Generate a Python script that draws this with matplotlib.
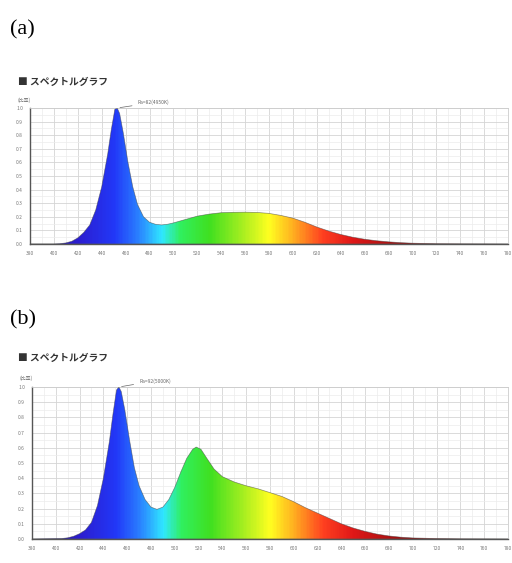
import numpy as np
import matplotlib
matplotlib.use('Agg')
import matplotlib.pyplot as plt
from matplotlib.colors import LinearSegmentedColormap

plt.rcParams['font.family'] = ['Noto Sans CJK JP', 'DejaVu Sans']

# spectrum (a)
wl_a = [380, 400, 405, 410, 415, 420, 425, 430, 435, 440, 445, 448, 451, 453, 455, 458,
        462, 466, 470, 475, 480, 485, 490, 495, 500, 510, 520, 530, 540, 550, 560, 570,
        580, 590, 600, 610, 620, 630, 640, 650, 660, 670, 680, 690, 700, 720, 740, 780]
val_a = [0, 0, 0.002, 0.008, 0.02, 0.045, 0.085, 0.14, 0.25, 0.42, 0.66, 0.84, 0.99, 1.0, 0.96, 0.82,
         0.6, 0.42, 0.29, 0.2, 0.16, 0.145, 0.14, 0.145, 0.155, 0.18, 0.205, 0.22, 0.23, 0.233, 0.234, 0.232,
         0.225, 0.21, 0.19, 0.16, 0.125, 0.095, 0.07, 0.05, 0.035, 0.024, 0.016, 0.01, 0.006, 0.002, 0.001, 0]

# spectrum (b)
wl_b = [380, 405, 410, 415, 420, 425, 430, 435, 440, 445, 448, 451, 453, 455, 458, 462,
        466, 470, 475, 480, 485, 490, 495, 500, 505, 510, 515, 518, 522, 527, 533, 540,
        550, 560, 570, 580, 590, 600, 610, 620, 630, 640, 650, 660, 670, 680, 690, 700,
        720, 740, 780]
val_b = [0, 0.003, 0.008, 0.018, 0.035, 0.06, 0.11, 0.22, 0.4, 0.64, 0.82, 0.98, 1.0, 0.97, 0.85, 0.65,
         0.47, 0.35, 0.26, 0.21, 0.195, 0.21, 0.26, 0.34, 0.44, 0.53, 0.59, 0.605, 0.59, 0.53, 0.46, 0.41,
         0.375, 0.35, 0.33, 0.305, 0.28, 0.245, 0.205, 0.17, 0.135, 0.1, 0.072, 0.05, 0.032, 0.02, 0.012, 0.007,
         0.003, 0.001, 0]

xticks = list(range(380, 781, 20))
yticks = [round(0.1 * i, 1) for i in range(11)]
labels = ['(a)', '(b)']
notes = ['Ra=82(4950K)', 'Ra=92(5000K)']

# wavelength -> colour
anchors = [(380, '#2a1a9a'), (420, '#2c1ed0'), (450, '#2238f8'), (470, '#2a80ff'),
           (490, '#30e8ff'), (505, '#30f060'), (530, '#40e020'), (560, '#b0f020'),
           (580, '#ffff20'), (600, '#ffb020'), (625, '#ff4020'), (650, '#e01818'),
           (690, '#a01010'), (780, '#702020')]
cmap = LinearSegmentedColormap.from_list(
    'spec', [((w - 380) / 400, c) for w, c in anchors])

fig = plt.figure(figsize=(5.12, 5.63), dpi=100)
boxes = [[30 / 512, 1 - 244 / 563, 478 / 512, 136 / 563],
         [32 / 512, 1 - 539 / 563, 476 / 512, 152 / 563]]
label_y = [1 - 30 / 563, 1 - 320 / 563]
head_y = [1 - 82 / 563, 1 - 358 / 563]

for i, (wl, val) in enumerate([(wl_a, val_a), (wl_b, val_b)]):
    fig.text(10 / 512, label_y[i], labels[i], fontsize=16, family='Liberation Serif',
             va='center', ha='left')
    fig.text(18 / 512, head_y[i], '■ スペクトルグラフ', fontsize=7, color='#333333',
             va='center', ha='left', fontweight='bold')

    ax = fig.add_axes(boxes[i])
    ax.set_xlim(380, 780)
    ax.set_ylim(0, 1.0)
    ax.set_xticks(xticks)
    ax.set_yticks(yticks)
    ax.set_xticks(range(390, 781, 20), minor=True)
    ax.set_yticks([0.05 + 0.1 * k for k in range(10)], minor=True)
    ax.set_xticklabels([str(t) for t in xticks], fontsize=3.5, color='#777777')
    ax.set_yticklabels(['%.1f' % t for t in yticks], fontsize=3.5, color='#777777')
    ax.tick_params(which='both', length=0, pad=5)
    ax.grid(which='major', color='#d4d4d4', lw=0.6)
    ax.grid(which='minor', color='#ececec', lw=0.5)
    ax.set_axisbelow(True)
    for s in ['top', 'right']:
        ax.spines[s].set_color('#cccccc')
        ax.spines[s].set_linewidth(0.6)
    for s in ['left', 'bottom']:
        ax.spines[s].set_color('#555555')
        ax.spines[s].set_linewidth(1.0)

    poly = ax.fill(wl, val, facecolor='none', edgecolor='none')[0]
    grad = np.linspace(0, 1, 400).reshape(1, -1)
    im = ax.imshow(grad, extent=[380, 780, 0, 1], aspect='auto', cmap=cmap,
                   origin='lower', zorder=2)
    im.set_clip_path(poly)
    ax.plot(wl, val, color='#444444', lw=0.5, alpha=0.6, zorder=3)
    ax.axhline(0.003, color='#555555', lw=1.0, zorder=3)

    # peak note
    ax.annotate(notes[i], xy=(453, 1.0), xytext=(470, 1.04), fontsize=3.5,
                color='#666666', va='center', annotation_clip=False,
                arrowprops=dict(arrowstyle='-', color='#666666', lw=0.5))
    ax.text(-0.012, 1.06, '(比率)', transform=ax.transAxes, fontsize=3.5,
            color='#666666', ha='center', va='center')

fig.savefig('out.png', dpi=100)
